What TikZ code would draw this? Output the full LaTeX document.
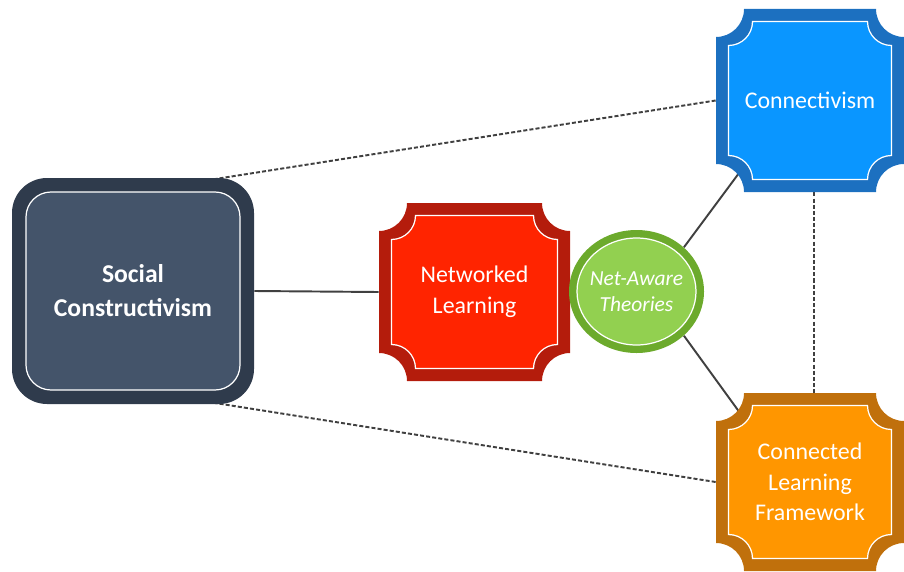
\documentclass[tikz,border=0pt]{standalone}
\usepackage{fontspec}
\setmainfont{Carlito}
\usetikzlibrary{calc}
\usetikzlibrary{shapes.geometric}
\usetikzlibrary{backgrounds}
\usepackage{xcolor}

\definecolor{socdark}{RGB}{47,59,76}
\definecolor{socfill}{RGB}{68,84,106}
\definecolor{netdark}{RGB}{180,28,12}
\definecolor{netfill}{RGB}{255,36,0}
\definecolor{natdark}{RGB}{108,170,44}
\definecolor{natfill}{RGB}{146,208,80}
\definecolor{condark}{RGB}{28,112,192}
\definecolor{confill}{RGB}{10,150,255}
\definecolor{clfdark}{RGB}{192,112,12}
\definecolor{clffill}{RGB}{255,150,0}
\definecolor{linkgray}{RGB}{64,64,64}

% box with concave corners, drawn from the path picture of a node
\newcommand{\plaquepath}[3]{%
  \path[#1] let \p1=(path picture bounding box.south west),
      \p2=(path picture bounding box.north east) in
    ({\x1+#2},{\y1+#2+#3}) -- ({\x1+#2},{\y2-#2-#3})
    arc[start angle=-90,end angle=0,radius=#3] -- ({\x2-#2-#3},{\y2-#2})
    arc[start angle=180,end angle=270,radius=#3] -- ({\x2-#2},{\y1+#2+#3})
    arc[start angle=90,end angle=180,radius=#3] -- ({\x1+#2+#3},{\y1+#2})
    arc[start angle=0,end angle=90,radius=#3] -- cycle;%
}

\tikzset{
  boxtext/.style={text=white,align=center,font=\fontsize{13.6}{17.4}\selectfont},
  plaque/.style 2 args={rectangle,boxtext,
    path picture={\plaquepath{fill=#1}{0pt}{0.56cm}
      \plaquepath{fill=#2,draw=white,line width=0.7pt}{0.25cm}{0.48cm}}},
  link/.style={draw=linkgray,line width=1.1pt},
  dashlink/.style={link,dash pattern=on 2.3pt off 1.2pt},
}

\begin{document}
\begin{tikzpicture}[scale=1]
    \useasboundingbox (0,0) rectangle (18.08,11.42);

    \node[rectangle,rounded corners=0.7cm,fill=socdark,boxtext,font=\fontsize{14.6}{19.4}\selectfont\bfseries,
      minimum width=4.84cm,minimum height=4.52cm,
      path picture={\filldraw[fill=socfill,draw=white,line width=0.7pt,rounded corners=0.5cm]
        ($(path picture bounding box.south west)+(0.28,0.28)$) rectangle
        ($(path picture bounding box.north east)-(0.28,0.28)$);}]
      (soc) at (2.66,5.60) {Social\\Constructivism};

    \node[plaque={netdark}{netfill},minimum width=3.82cm,minimum height=3.56cm]
      (net) at (9.49,5.58) {Networked\\Learning};

    \node[ellipse,fill=natdark,boxtext,font=\fontsize{12.2}{14.8}\selectfont\itshape,
      minimum width=2.70cm,minimum height=2.46cm,inner sep=0pt,
      path picture={\filldraw[fill=natfill,draw=white,line width=0.7pt]
        (path picture bounding box.center) ellipse (1.19cm and 1.07cm);}]
      (nat) at (12.73,5.59) {Net-Aware\\Theories};

    \node[plaque={condark}{confill},minimum width=3.76cm,minimum height=3.66cm]
      (conn) at (16.20,9.41) {Connectivism};

    \node[plaque={clfdark}{clffill},minimum width=3.76cm,minimum height=3.56cm]
      (clf) at (16.20,1.78) {Connected\\Learning\\Framework};

    \begin{scope}[on background layer]
      \draw[link] (soc.east) -- (net.west);
      \draw[link] (nat.43) -- ($(conn.south west)+(0.7,0.7)$);
      \draw[link] (nat.-43) -- ($(clf.north west)+(0.7,-0.7)$);
      \draw[dashlink] (conn.west) -- ($(soc.north east)+(-1.5,-0.14)$);
      \draw[dashlink] (clf.west) -- ($(soc.south east)+(-1.5,0.14)$);
      \draw[dashlink] ($(conn.south)+(0.08,0)$) -- ($(clf.north)+(0.08,0)$);
    \end{scope}
\end{tikzpicture}
\end{document}
